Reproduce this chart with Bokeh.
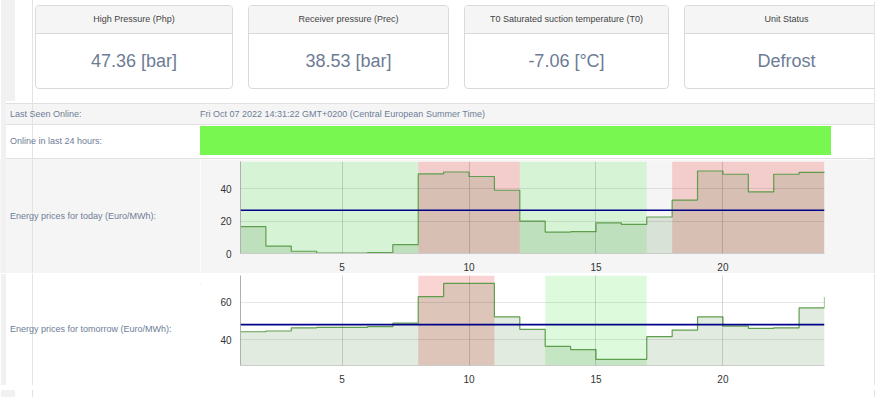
from bokeh.plotting import figure
from bokeh.models import Div, Span, Range1d
from bokeh.layouts import column, row
from bokeh.embed import file_html
from bokeh.resources import INLINE

# ---------------- data ----------------
CARD_TITLES = ["High Pressure (Php)", "Receiver pressure (Prec)",
               "T0 Saturated suction temperature (T0)", "Unit Status"]
CARD_VALUES = ["47.36 [bar]", "38.53 [bar]", "-7.06 [°C]", "Defrost"]
LAST_SEEN_LABEL = "Last Seen Online:"
LAST_SEEN_VALUE = "Fri Oct 07 2022 14:31:22 GMT+0200 (Central European Summer Time)"
ONLINE_LABEL = "Online in last 24 hours:"
TODAY_LABEL = "Energy prices for today (Euro/MWh):"
TOMORROW_LABEL = "Energy prices for tomorrow (Euro/MWh):"

HOURS = list(range(1, 25))
TODAY = [16.6, 4.6, 1.4, 0.2, 0.2, 0.6, 5.5, 49.3, 50.5, 47.7, 39.2, 20.0,
         13.3, 13.5, 19.0, 18.0, 22.6, 33.1, 51.1, 49.1, 38.2, 49.1, 50.3, 50.6]
TOMORROW = [44.3, 44.7, 46.4, 46.6, 46.6, 47.0, 48.9, 63.0, 70.1, 70.1, 52.2, 45.6,
            36.5, 34.8, 29.6, 29.6, 41.7, 45.2, 52.2, 47.3, 46.1, 46.4, 57.0, 62.8]

TODAY_CHEAP_START = [1, 12]
TODAY_CHEAP_END = [8, 17]
TODAY_EXP_START = [8, 18]
TODAY_EXP_END = [12, 24]
TOMORROW_CHEAP_START = [13]
TOMORROW_CHEAP_END = [17]
TOMORROW_EXP_START = [8]
TOMORROW_EXP_END = [11]

X_TICKS = [5, 10, 15, 20]
TODAY_Y_TICKS = [0, 20, 40]
TOMORROW_Y_TICKS = [40, 60]

# ---------------- styles ----------------
FONT = "'Liberation Sans', Arial, Helvetica, sans-serif"
W = 875
ROW_GRAY = "#f5f5f5"
STRIP = "#f1f1f1"
VLINE = "#e3e3e3"
BORDER = "#e0e0e0"
LABEL_COLOR = "#6e7d96"


def box(x, y, w, h, color, z=0):
    return (f'<div style="position:absolute;left:{x}px;top:{y}px;width:{w}px;'
            f'height:{h}px;background:{color};z-index:{z}"></div>')


def text(x, y, h, s, size=9, color=LABEL_COLOR):
    return (f'<div style="position:absolute;left:{x}px;top:{y}px;height:{h}px;'
            f'line-height:{h}px;font-size:{size}px;color:{color};white-space:nowrap;z-index:3">{s}</div>')


def wrap(inner, w, h, bg="#ffffff"):
    return (f'<div style="position:relative;width:{w}px;height:{h}px;overflow:hidden;'
            f'background:{bg};font-family:{FONT}">{inner}</div>')


# ---------------- top section (cards + first table rows) ----------------
top_h = 159
parts = [box(1, 0, 14, 101, STRIP), box(1, 101, 5, top_h - 101, STRIP)]
card_x = [35, 248, 464, 684]
card_w = [198, 201, 205, 205]
for cx, cw, t, v in zip(card_x, card_w, CARD_TITLES, CARD_VALUES):
    parts.append(
        f'<div style="position:absolute;left:{cx}px;top:5px;width:{cw}px;height:84px;'
        f'box-sizing:border-box;border:1px solid #dadada;border-radius:4px;background:#fff;overflow:hidden;z-index:1">'
        f'<div style="height:28px;box-sizing:border-box;border-bottom:1px solid #dadada;background:#f5f5f5;'
        f'text-align:center;line-height:27px;font-size:9px;color:#444">{t}</div>'
        f'<div style="height:54px;line-height:54px;text-align:center;font-size:18px;color:#6d7c94">{v}</div>'
        f'</div>')
parts += [
    box(6, 103, 868, 1, BORDER),
    box(6, 104, 868, 20, ROW_GRAY),
    box(6, 124, 868, 1, BORDER),
    box(200, 126, 631, 29, "#77f74f", 1),
    box(6, 158, 868, 1, BORDER),
    box(32, 0, 1, top_h, VLINE, 2),
    box(874, 2, 1, top_h - 2, VLINE, 2),
    text(10, 104, 20, LAST_SEEN_LABEL),
    text(200, 104, 20, LAST_SEEN_VALUE),
    text(10, 125, 33, ONLINE_LABEL),
]
div_top = Div(text=wrap("".join(parts), W, top_h), width=W, height=top_h, margin=0)


def left_div(label, h, bg):
    inner = (box(1, 0, 5, h, STRIP) + box(6, 0, 194, h, bg) + box(32, 0, 1, h, VLINE, 2)
             + text(10, 0, h, label))
    return Div(text=wrap(inner, 200, h, bg), width=200, height=h, margin=0)


def right_div(h, bg):
    inner = box(0, 0, 6, h, bg) + box(6, 0, 1, h, VLINE, 2)
    return Div(text=wrap(inner, 7, h, bg), width=7, height=h, margin=0)


def chart(values, y0, y1, yticks, cs, ce, es, ee, bg, h, top):
    p = figure(width=668, height=h, x_range=Range1d(1, 24), y_range=Range1d(y0, y1),
               output_backend="svg", toolbar_location=None,
               min_border_left=40, min_border_right=44, min_border_top=top, min_border_bottom=18,
               background_fill_color=bg, border_fill_color=bg, outline_line_color=None, margin=0)
    p.quad(left=cs, right=ce, bottom=y0, top=y1, fill_color="#90ee90", fill_alpha=0.3, line_color=None)
    p.quad(left=es, right=ee, bottom=y0, top=y1, fill_color="#f08080", fill_alpha=0.35, line_color=None)
    p.varea_step(x=HOURS, y1=0, y2=values, step_mode="after", fill_color="#3c7a2a", fill_alpha=0.15)
    p.step(HOURS, values, mode="after", line_color="#5f9e4e", line_width=1.2)
    mean = sum(values) / len(values)
    p.add_layout(Span(location=mean, dimension="width", line_color="#000088", line_width=1.6))

    p.xaxis.ticker = X_TICKS
    p.yaxis.ticker = yticks
    for ax in (p.xaxis, p.yaxis):
        ax.major_tick_line_color = None
        ax.minor_tick_line_color = None
        ax.major_label_text_font = "Liberation Sans"
        ax.major_label_text_font_size = "10px"
        ax.major_label_text_color = "#333333"
        ax.major_label_standoff = 3
    p.xaxis.axis_line_color = "#cccccc"
    p.yaxis.axis_line_color = "#b0b0b0"
    p.xgrid.grid_line_color = "black"
    p.xgrid.grid_line_alpha = 0.15
    p.ygrid.grid_line_color = "black"
    p.ygrid.grid_line_alpha = 0.09
    p.xgrid.level = "guide"
    p.ygrid.level = "guide"
    return p


h1 = 114
p1 = chart(TODAY, 0, 57, TODAY_Y_TICKS, TODAY_CHEAP_START, TODAY_CHEAP_END,
           TODAY_EXP_START, TODAY_EXP_END, ROW_GRAY, h1, 2)
row1 = row(left_div(TODAY_LABEL, h1, ROW_GRAY), p1, right_div(h1, ROW_GRAY))

sep_inner = box(1, 0, 5, 1, STRIP) + box(6, 0, 868, 1, BORDER) + box(32, 0, 1, 1, VLINE, 2) + box(874, 0, 1, 1, VLINE, 2)
sep = Div(text=wrap(sep_inner, W, 1), width=W, height=1, margin=0)

h2 = 111
p2 = chart(TOMORROW, 26.3, 74.3, TOMORROW_Y_TICKS, TOMORROW_CHEAP_START, TOMORROW_CHEAP_END,
           TOMORROW_EXP_START, TOMORROW_EXP_END, "#ffffff", h2, 1)
row2 = row(left_div(TOMORROW_LABEL, h2, "#ffffff"), p2, right_div(h2, "#ffffff"))

bot_h = 7
bot_inner = box(1, 0, 14, bot_h, STRIP) + box(32, 0, 1, bot_h, VLINE) + box(874, 0, 1, bot_h, VLINE)
div_bot = Div(text=wrap(bot_inner, W, bot_h), width=W, height=bot_h, margin=0)

layout = column(div_top, row1, sep, row2, div_bot)

open("out.html", "w").write(file_html(layout, INLINE))
